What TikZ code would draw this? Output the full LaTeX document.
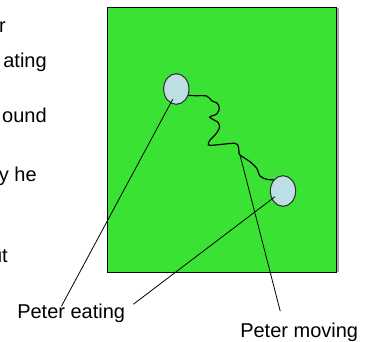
\documentclass[tikz,border=0pt]{standalone}
\usepackage{fontspec}
\setmainfont{Liberation Sans}
\usetikzlibrary{shapes.geometric,calc}
\definecolor{PtrGrass}{HTML}{3AE234}
\definecolor{PtrSpot}{HTML}{BDDFE4}
\definecolor{PtrEdge}{HTML}{333333}
\definecolor{PtrShade}{HTML}{A8A8A8}

\begin{document}
\begin{tikzpicture}[x=0.75pt,y=-0.75pt,
    every node/.style={font=\fontsize{15}{18}\selectfont},
    spot/.style={ellipse,draw=PtrEdge,fill=PtrSpot,line width=0.8pt,
      inner sep=0pt,minimum width=19pt,minimum height=23pt},
    frag/.style={anchor=base east,inner sep=0pt},
    lbl/.style={anchor=base west,inner sep=0pt},
    lead/.style={line width=0.6pt}]
  \useasboundingbox (0,0) rectangle (372,342);
  \clip (0,0) rectangle (372,342);

  % notes cut off at the left edge
  \node[frag] (noteA) at (6,33) {r};
  \node[frag] (noteB) at (47,68) {ating};
  \node[frag] (noteC) at (47,123) {ound};
  \node[frag] (noteD) at (37,182) {y he};
  \node[frag] (noteE) at (8,263) {ut};

  % the field
  \fill[PtrShade] (109,8.5) rectangle (338.7,272.3);
  \draw[fill=PtrGrass,line width=0.8pt] (107.3,7.3) rectangle (336.7,272.3);

  \node[spot] (eatA) at (176.3,89) {};
  \node[spot] (eatB) at (283,191) {};
  \coordinate (kink) at (240,155);

  % Peter's track
  \draw[line width=0.9pt] plot[smooth] coordinates {(eatA.-28) (195,95.7)
    (206.7,96) (211.7,100.7) (217.3,103.3) (219.3,108.3) (216.7,114)
    (210,116.7) (211,118.3) (218.3,122.7) (219.3,128.3) (215,135)
    (210,140) (208.3,145) (215,145) (235,143.3) (238.3,146.7) (239,152)
    (kink) (250,161.7) (256.7,168.3) (260,176) (266.7,179.3) (eatB.130)};

  \node[lbl] (eatLbl) at (17,319) {Peter eating};
  \node[lbl] (movLbl) at (240,338) {Peter moving};

  \draw[lead] ([shift={(-3.6,10.3)}]eatA.center)
    -- ($(eatLbl.north west)!0.41!(eatLbl.north east)+(0,2)$);
  \draw[lead] ([shift={(-8,5.7)}]eatB.center)
    -- ([shift={(8,0)}]eatLbl.north east);
  \draw[lead] (kink)
    -- ($(movLbl.north west)!0.34!(movLbl.north east)+(0,-12)$);
\end{tikzpicture}
\end{document}
